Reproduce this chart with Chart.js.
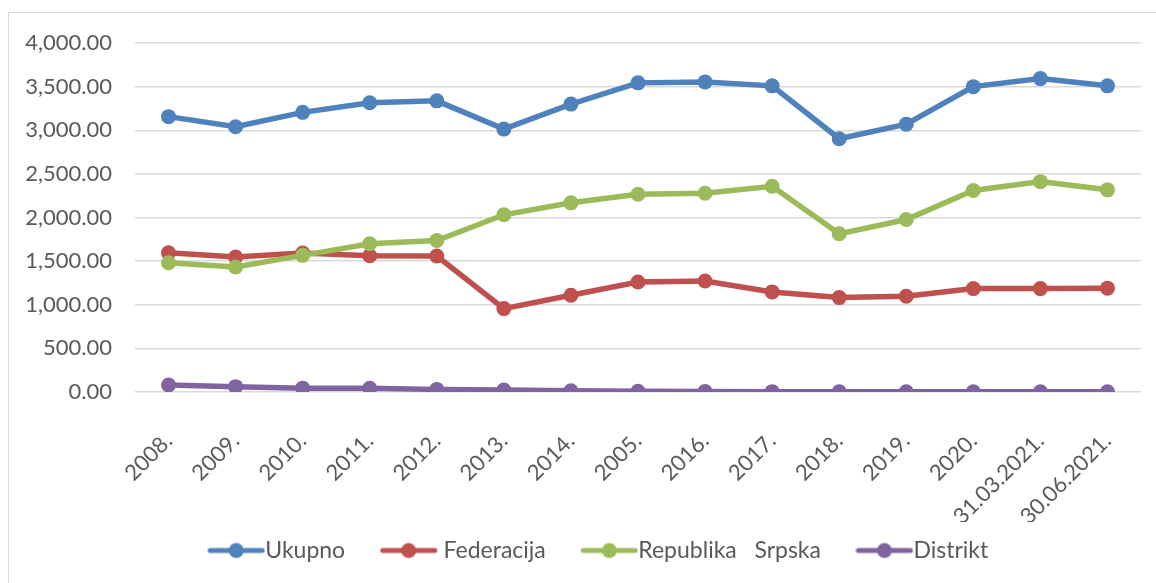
<!DOCTYPE html>
<html>
<head>
<meta charset="utf-8">
<script src="https://cdn.jsdelivr.net/npm/chart.js@4.4.1/dist/chart.umd.min.js"></script>
<style>
  html, body { margin: 0; padding: 0; background: #fff; }
  body { width: 1156px; height: 583px; overflow: hidden; position: relative; }
  #frame {
    position: absolute; left: 8px; top: 12px;
    width: 1148px; height: 571px;
    border-left: 1.5px solid #d9d9d9; border-top: 1.5px solid #d9d9d9;
  }
  #wrap { position: absolute; left: 1px; top: 1px; width: 1147px; height: 570px; }
</style>
</head>
<body>
<div id="frame"><div id="wrap"><canvas id="chart"></canvas></div></div>
<script>
// ---------- data ----------
const categories = ["2008.", "2009.", "2010.", "2011.", "2012.", "2013.", "2014.", "2005.",
                    "2016.", "2017.", "2018.", "2019.", "2020.", "31.03.2021.", "30.06.2021."];
const ukupno     = [3156, 3040, 3205, 3316, 3337, 3013, 3300, 3543, 3554, 3509, 2903, 3070, 3500, 3592, 3509];
const federacija = [1596, 1546, 1592, 1562, 1558, 956, 1109, 1261, 1272, 1147, 1082, 1097, 1185, 1185, 1190];
const republika  = [1482, 1432, 1566, 1699, 1737, 2031, 2168, 2267, 2278, 2358, 1813, 1977, 2309, 2411, 2317];
const distrikt   = [80, 61, 44, 42, 30, 23, 15, 8, 5, 4, 3, 3, 3, 3, 3];
const seriesNames = ["Ukupno", " Federacija", "Republika   Srpska", "Distrikt"];
const yTicks = [0, 500, 1000, 1500, 2000, 2500, 3000, 3500, 4000];

const colors = ['#4f81bd', '#c0504d', '#9bbb59', '#8064a2'];
const FONT = "Lato";
const TXT = '#595959';

// legend marker: line with a dot in the middle
function legendMarker(color) {
  const c = document.createElement('canvas');
  c.width = 58; c.height = 18;
  const g = c.getContext('2d');
  g.strokeStyle = color; g.lineWidth = 5; g.lineCap = 'round';
  g.beginPath(); g.moveTo(3, 9); g.lineTo(55, 9); g.stroke();
  g.fillStyle = color;
  g.beginPath(); g.arc(29, 9, 7.5, 0, Math.PI * 2); g.fill();
  return c;
}

function mkSet(i, data) {
  return {
    label: seriesNames[i],
    data: data,
    borderColor: colors[i],
    backgroundColor: colors[i],
    borderWidth: 5.5,
    pointRadius: 7.5,
    pointHoverRadius: 7.5,
    pointBorderWidth: 0,
    tension: 0,
    order: 3 - i
  };
}

// legend in the original sits a bit right of centre, and overlaps the label band
const legendShift = {
  id: 'legendShift',
  afterLayout(chart) {
    const lg = chart.legend;
    if (lg) { lg.left += 28; lg.right += 28; lg.top -= 29; lg.bottom -= 29; }
  }
};

const ctx = document.getElementById('chart');
new Chart(ctx, {
  type: 'line',
  data: {
    labels: categories,
    datasets: [mkSet(0, ukupno), mkSet(1, federacija), mkSet(2, republika), mkSet(3, distrikt)]
  },
  plugins: [legendShift],
  options: {
    responsive: true,
    maintainAspectRatio: false,
    animation: false,
    layout: { padding: { left: 0, right: 16, top: 29, bottom: -17 } },
    scales: {
      y: {
        min: 0, max: 4000,
        afterBuildTicks: s => { s.ticks = yTicks.map(v => ({ value: v })); },
        afterFit: s => { s.width = 125; s.paddingTop = 0; s.paddingBottom = 0; },
        grid: { color: '#d9d9d9', lineWidth: 1.5, drawTicks: false },
        border: { display: false },
        ticks: {
          color: TXT, padding: 23,
          font: { family: FONT, size: 22 },
          callback: v => v.toLocaleString('en-US', { minimumFractionDigits: 2, maximumFractionDigits: 2 })
        }
      },
      x: {
        offset: true,
        afterFit: s => { s.height = 130; s.paddingLeft = 0; s.paddingRight = 0; },
        grid: { display: false, drawTicks: false },
        border: { display: false },
        ticks: {
          color: TXT, autoSkip: false, maxRotation: 45, minRotation: 45, padding: 36,
          font: { family: FONT, size: 22 }
        }
      }
    },
    plugins: {
      tooltip: { enabled: false },
      legend: {
        position: 'bottom',
        labels: {
          usePointStyle: true,
          pointStyleWidth: 35,
          padding: 46,
          color: TXT,
          font: { family: FONT, size: 23 },
          generateLabels: chart => chart.data.datasets.map((d, i) => ({
            text: d.label,
            fillStyle: colors[i],
            strokeStyle: colors[i],
            fontColor: TXT,
            pointStyle: legendMarker(colors[i]),
            datasetIndex: i,
            hidden: false,
            lineWidth: 0
          }))
        }
      }
    }
  }
});
</script>
</body>
</html>
